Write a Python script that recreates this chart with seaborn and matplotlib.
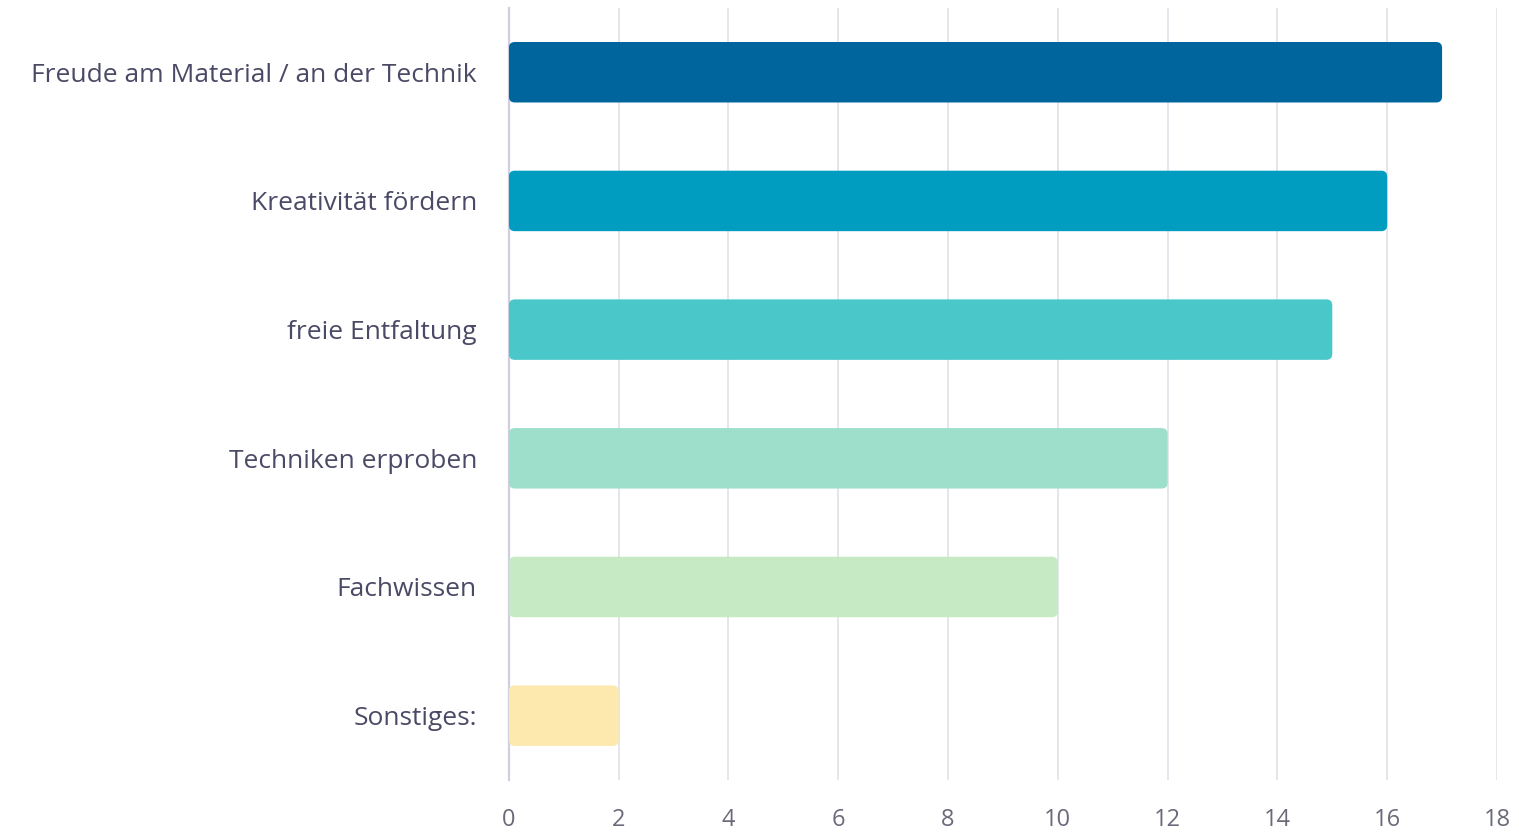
import matplotlib
matplotlib.use("Agg")
import matplotlib.pyplot as plt
import seaborn as sns
import pandas as pd
from matplotlib.patches import FancyBboxPatch

categories = ["Freude am Material / an der Technik", "Kreativität fördern", "freie Entfaltung",
              "Techniken erproben", "Fachwissen", "Sonstiges:"]
values = [17, 16, 15, 12, 10, 2]
colors = ["#00659d", "#009dc0", "#4ac7c8", "#9edfcc", "#c6eac3", "#fde9ae"]
xticks = [0, 2, 4, 6, 8, 10, 12, 14, 16, 18]

df = pd.DataFrame({"cat": categories, "val": values})

sns.set_theme(style="white")
plt.rcParams["font.family"] = ["Open Sans", "DejaVu Sans"]

fig = plt.figure(figsize=(15.19, 8.32), dpi=100)
ax = fig.add_axes([0.335, 0.0625, 0.6505, 0.928])

sns.barplot(data=df, x="val", y="cat", hue="cat", palette=colors, legend=False,
            width=0.47, ax=ax, saturation=1, zorder=3)

ax.set_xlim(0, 18)
ax.set_ylim(5.5, -0.5)

# rounded bar ends
fig.canvas.draw()
ppx = ax.bbox.width / 18.0
ppy = ax.bbox.height / 6.0
for p in list(ax.patches):
    x0, y0 = p.get_x(), p.get_y()
    w, h = p.get_width(), p.get_height()
    fc = p.get_facecolor()
    p.set_visible(False)
    r = 6 / ppx
    fb = FancyBboxPatch((x0, y0), w, h,
                        boxstyle=f"round,pad=0,rounding_size={r}",
                        mutation_aspect=ppx / ppy, facecolor=fc,
                        edgecolor="none", zorder=3)
    ax.add_patch(fb)

ax.set_xticks(xticks)
ax.set_xticklabels([str(t) for t in xticks], color="#6a6a7a", fontsize=17)
ax.tick_params(axis="y", length=0, pad=23, labelsize=19, labelcolor="#4a4a66")
ax.tick_params(axis="x", length=0, pad=20)
ax.set_xlabel("")
ax.set_ylabel("")
ax.grid(axis="x", color="#e3e3ea", linewidth=1.3, zorder=0)
ax.grid(axis="y", visible=False)
for s in ["top", "right", "bottom"]:
    ax.spines[s].set_visible(False)
ax.spines["left"].set_color("#cfcfe0")
ax.spines["left"].set_linewidth(1.6)
ax.spines["left"].set_zorder(1)

fig.savefig("out.png", dpi=100, facecolor="white")
